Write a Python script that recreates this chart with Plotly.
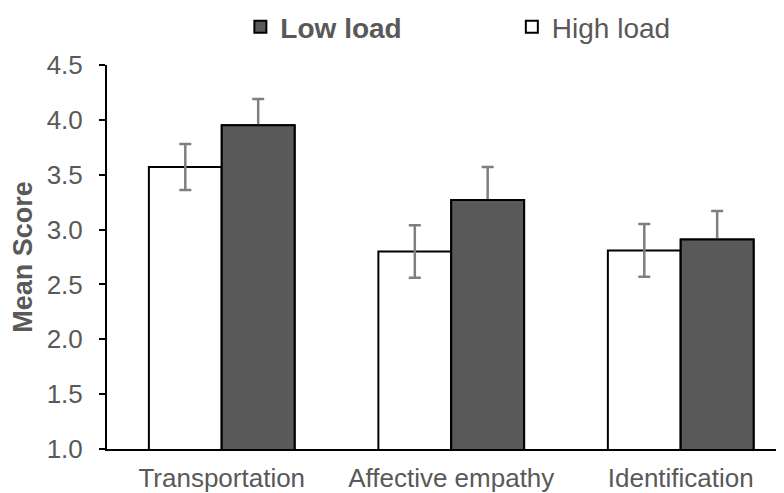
import plotly.graph_objects as go

categories = ["Transportation", "Affective empathy", "Identification"]
high_load = [3.57, 2.80, 2.81]
high_err = [0.21, 0.24, 0.24]
low_load = [3.95, 3.27, 2.91]
low_err = [0.24, 0.30, 0.26]
y_ticks = [1.0, 1.5, 2.0, 2.5, 3.0, 3.5, 4.0, 4.5]

GREY_TEXT = "#595959"
ERR_STYLE = dict(type="data", color="#7f7f7f", thickness=2.5, width=6)

fig = go.Figure()
fig.add_trace(go.Bar(
    x=categories, y=high_load, name="High load", legend="legend2", offsetgroup="high",
    marker=dict(color="white", line=dict(color="black", width=2)),
    error_y=dict(array=high_err, **ERR_STYLE),
))
fig.add_trace(go.Bar(
    x=categories, y=low_load, name="<b>Low load</b>", legend="legend", offsetgroup="low",
    marker=dict(color="#595959", line=dict(color="black", width=2)),
    error_y=dict(array=low_err, **ERR_STYLE),
))
# same low-load bars again on top, so the lower half of their error bars is hidden
fig.add_trace(go.Bar(
    x=categories, y=low_load, name="Low load", showlegend=False, offsetgroup="low",
    marker=dict(color="#595959", line=dict(color="black", width=2)),
    hoverinfo="skip",
))

legend_common = dict(
    orientation="h", xanchor="left", yanchor="middle", y=1.099,
    font=dict(size=28, color=GREY_TEXT), bgcolor="rgba(0,0,0,0)",
    itemwidth=30,
)

fig.update_layout(
    template="none",
    width=776, height=485,
    margin=dict(l=99, r=0, t=57, b=44, autoexpand=False),
    paper_bgcolor="white", plot_bgcolor="white",
    barmode="group", bargap=0.365, bargroupgap=0,
    font=dict(family="Liberation Sans, Arial, sans-serif", color=GREY_TEXT, size=26),
    showlegend=True,
    legend=dict(x=0.197, **legend_common),
    legend2=dict(x=0.598, **legend_common),
    xaxis=dict(
        range=[-0.5, 2.45], showline=True, linecolor="black", linewidth=2,
        ticks="", showgrid=False, zeroline=False, automargin=False,
        tickfont=dict(size=26, color=GREY_TEXT), ticklabelstandoff=5,
    ),
    yaxis=dict(
        range=[1.0, 4.5], tickvals=y_ticks, ticktext=[f"{v:.1f}" for v in y_ticks],
        showline=True, linecolor="black", linewidth=2,
        ticks="outside", ticklen=6, tickcolor="black", tickwidth=2,
        showgrid=False, zeroline=False, automargin=False,
        tickfont=dict(size=26, color=GREY_TEXT), ticklabelstandoff=11,
        title=dict(text="<b>Mean Score</b>", font=dict(size=27, color=GREY_TEXT), standoff=14),
    ),
)

fig.write_html("out.html")
